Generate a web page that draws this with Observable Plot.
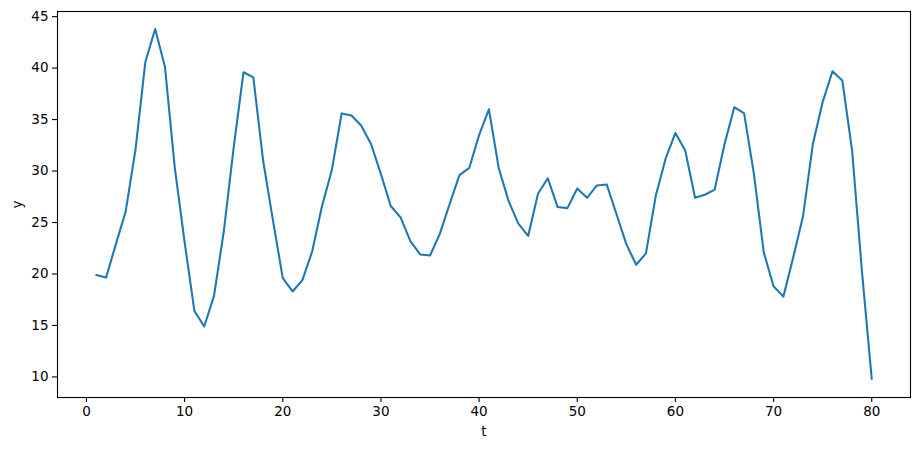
<!DOCTYPE html>
<html>
<head>
<meta charset="utf-8">
<script src="https://cdn.jsdelivr.net/npm/d3@7"></script>
<script src="https://cdn.jsdelivr.net/npm/@observablehq/plot@0.6"></script>
<style>
  html, body { margin: 0; padding: 0; background: #fff; }
  svg { display: block; }
</style>
</head>
<body>
<div id="chart"></div>
<script>
const t = Array.from({length: 80}, (_, i) => i + 1);
const y = [
  19.9, 19.65, 22.9, 26.1, 32.1, 40.6, 43.8, 40.1, 30.3, 23.1,
  16.4, 14.9, 17.9, 24.2, 32.3, 39.6, 39.1, 31.0, 25.2, 19.6,
  18.3, 19.4, 22.2, 26.6, 30.1, 35.6, 35.4, 34.4, 32.6, 29.7,
  26.6, 25.5, 23.2, 21.9, 21.8, 23.9, 26.8, 29.6, 30.3, 33.5,
  36.0, 30.3, 27.1, 24.9, 23.7, 27.8, 29.3, 26.5, 26.4, 28.3,
  27.4, 28.6, 28.7, 25.8, 22.9, 20.9, 22.0, 27.6, 31.2, 33.7,
  32.0, 27.4, 27.7, 28.2, 32.6, 36.2, 35.6, 29.7, 22.1, 18.8,
  17.8, 21.6, 25.6, 32.6, 36.7, 39.7, 38.8, 32.0, 20.3, 9.8
];
const xTicks = [0, 10, 20, 30, 40, 50, 60, 70, 80];
const yTicks = [10, 15, 20, 25, 30, 35, 40, 45];

const data = t.map((d, i) => ({t: d, y: y[i]}));

const chart = Plot.plot({
  width: 919,
  height: 449,
  marginLeft: 57,
  marginRight: 9,
  marginTop: 11,
  marginBottom: 52,
  style: {fontFamily: "DejaVu Sans", fontSize: "13.5px", color: "#000", background: "#fff"},
  x: {domain: [-2.95, 83.95]},
  y: {domain: [8.0, 45.5]},
  marks: [
    Plot.axisX({ticks: xTicks, tickSize: 5, tickPadding: 4, label: "t", labelAnchor: "center", labelArrow: "none", labelOffset: 38, stroke: "#000", strokeWidth: 1.1, strokeOpacity: 1}),
    Plot.axisY({ticks: yTicks, tickSize: 5, tickPadding: 4, label: "y", labelAnchor: "center", labelArrow: "none", labelOffset: 45, stroke: "#000", strokeWidth: 1.1, strokeOpacity: 1}),
    Plot.line(data, {x: "t", y: "y", stroke: "#1f77b4", strokeWidth: 2.08}),
    Plot.frame({stroke: "#000", strokeWidth: 1.1})
  ]
});
document.getElementById("chart").appendChild(chart);
</script>
</body>
</html>
